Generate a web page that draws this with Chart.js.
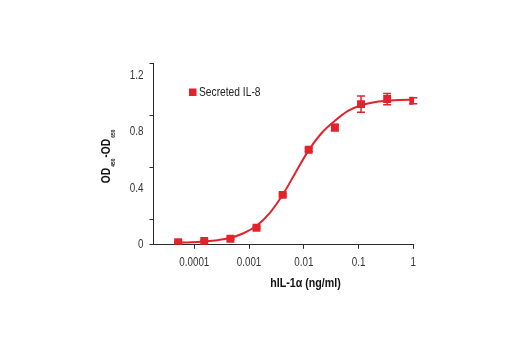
<!DOCTYPE html>
<html>
<head>
<meta charset="utf-8">
<script src="https://cdn.jsdelivr.net/npm/chart.js@4.4.0/dist/chart.umd.min.js"></script>
<style>
  html, body { margin: 0; padding: 0; background: #fff; }
</style>
</head>
<body>
<canvas id="doseChart" width="520" height="350"></canvas>
<script>
// hIL-1a dose (ng/ml), 3-fold dilution series
const doses = [0.0000508, 0.000152, 0.000457, 0.00137, 0.00412, 0.0123, 0.037, 0.111, 0.333, 1];
const odMeans = [0.018, 0.027, 0.043, 0.121, 0.354, 0.674, 0.832, 0.998, 1.034, 1.022];
const odErrors = [0.005, 0.005, 0.005, 0.008, 0.01, 0.01, 0.022, 0.058, 0.04, 0.022];

// fitted dose-response curve
const fitDoses = [0.0000508, 0.000088, 0.000152, 0.000264, 0.000457, 0.000792, 0.00137, 0.00238,
  0.00412, 0.00713, 0.0123, 0.0214, 0.037, 0.0642, 0.111, 0.192, 0.333, 0.577, 1];
const fitOD = [0.015, 0.018, 0.024, 0.033, 0.05, 0.082, 0.135, 0.225,
  0.355, 0.515, 0.672, 0.795, 0.88, 0.95, 0.99, 1.012, 1.022, 1.028, 1.03];

const xTicks = [0.0001, 0.001, 0.01, 0.1, 1];
const yLabelTicks = [0, 0.4, 0.8, 1.2];
const yMarkTicks = [0, 0.183, 0.549, 0.917, 1.29];

const RED = '#e3232b';
const AXIS = '#2a2a2a';
const FONT = "'Liberation Sans', Arial, sans-serif";
const NARROW = 0.82; // horizontal squeeze for a condensed look

// text drawn with a horizontal squeeze
function narrowText(ctx, text, x, y, align, font) {
  ctx.save();
  ctx.font = font;
  ctx.textAlign = align;
  ctx.textBaseline = 'middle';
  ctx.translate(x, y);
  ctx.scale(NARROW, 1);
  ctx.fillText(text, 0, 0);
  ctx.restore();
}

// vertical error bars with caps on the measured points
const errorBars = {
  id: 'errorBars',
  afterDatasetsDraw(chart) {
    const { ctx } = chart;
    const y = chart.scales.y;
    const meta = chart.getDatasetMeta(1);
    ctx.save();
    ctx.strokeStyle = RED;
    ctx.lineWidth = 1.5;
    meta.data.forEach((pt, i) => {
      const top = y.getPixelForValue(odMeans[i] + odErrors[i]);
      const bot = y.getPixelForValue(odMeans[i] - odErrors[i]);
      ctx.beginPath();
      ctx.moveTo(pt.x, top); ctx.lineTo(pt.x, bot);
      ctx.moveTo(pt.x - 4, top); ctx.lineTo(pt.x + 4, top);
      ctx.moveTo(pt.x - 4, bot); ctx.lineTo(pt.x + 4, bot);
      ctx.stroke();
    });
    ctx.restore();
  }
};

// tick labels, axis titles (with subscripts) and the inline legend
const annotations = {
  id: 'annotations',
  afterDraw(chart) {
    const { ctx, chartArea } = chart;
    const xs = chart.scales.x, ys = chart.scales.y;
    ctx.save();

    ctx.fillStyle = '#333';
    xTicks.forEach(v => {
      narrowText(ctx, String(v), xs.getPixelForValue(v), chartArea.bottom + 17.5, 'center', '12px ' + FONT);
    });
    yLabelTicks.forEach(v => {
      narrowText(ctx, String(v), chartArea.left - 10, ys.getPixelForValue(v), 'right', '12px ' + FONT);
    });

    ctx.fillStyle = '#111';
    narrowText(ctx, 'hIL-1α (ng/ml)', chartArea.left + 152, chartArea.bottom + 38.5, 'center', 'bold 13px ' + FONT);

    // OD450-OD650, rotated
    const parts = [
      { t: 'OD', sub: false }, { t: '450', sub: true },
      { t: '-OD', sub: false }, { t: '650', sub: true }
    ];
    const mainFont = 'bold 12.5px ' + FONT;
    const subFont = 'bold 6px ' + FONT;
    let total = 0;
    parts.forEach(p => {
      ctx.font = p.sub ? subFont : mainFont;
      p.w = ctx.measureText(p.t).width * NARROW + (p.sub ? 1.5 : 0.5);
      total += p.w;
    });
    ctx.save();
    ctx.translate(chartArea.left - 46.5, chartArea.top + 93);
    ctx.rotate(-Math.PI / 2);
    let cx = -total / 2;
    parts.forEach(p => {
      narrowText(ctx, p.t, cx + (p.sub ? 0.75 : 0), p.sub ? 6 : 0, 'left', p.sub ? subFont : mainFont);
      cx += p.w;
    });
    ctx.restore();

    const ds = chart.data.datasets[1];
    ctx.fillStyle = ds.backgroundColor;
    ctx.fillRect(chartArea.left + 35.5, chartArea.top + 25.5, 7.5, 7.5);
    ctx.fillStyle = '#222';
    narrowText(ctx, ds.label, chartArea.left + 45.5, chartArea.top + 29.8, 'left', '12.5px ' + FONT);
    ctx.restore();
  }
};

new Chart(document.getElementById('doseChart'), {
  type: 'scatter',
  data: {
    datasets: [
      {
        type: 'line',
        label: 'Fit',
        data: fitDoses.map((d, i) => ({ x: d, y: fitOD[i] })),
        borderColor: RED,
        borderWidth: 2,
        pointRadius: 0,
        fill: false,
        cubicInterpolationMode: 'monotone'
      },
      {
        label: 'Secreted IL-8',
        data: doses.map((d, i) => ({ x: d, y: odMeans[i] })),
        backgroundColor: RED,
        borderColor: RED,
        borderWidth: 0,
        pointStyle: 'rect',
        pointRadius: 5.6
      }
    ]
  },
  options: {
    responsive: false,
    animation: false,
    devicePixelRatio: 1,
    layout: { padding: { left: 0, top: 63, right: 106.7, bottom: 0 } },
    plugins: {
      legend: { display: false },
      tooltip: { enabled: false }
    },
    scales: {
      x: {
        type: 'logarithmic',
        min: 0.0000180,
        max: 1,
        afterBuildTicks: scale => { scale.ticks = xTicks.map(v => ({ value: v })); },
        afterFit: scale => { scale.height = 105.2; },
        ticks: { display: false, autoSkip: false },
        grid: { drawOnChartArea: false, tickLength: 4, tickColor: AXIS },
        border: { color: AXIS, width: 1 }
      },
      y: {
        min: 0,
        max: 1.29,
        afterBuildTicks: scale => {
          scale.ticks = yMarkTicks.map(v => ({ value: v }));
        },
        afterFit: scale => { scale.width = 153.5; },
        ticks: { display: false, autoSkip: false },
        grid: { drawOnChartArea: false, tickLength: 4, tickColor: AXIS },
        border: { color: AXIS, width: 1 }
      }
    }
  },
  plugins: [errorBars, annotations]
});
</script>
</body>
</html>
